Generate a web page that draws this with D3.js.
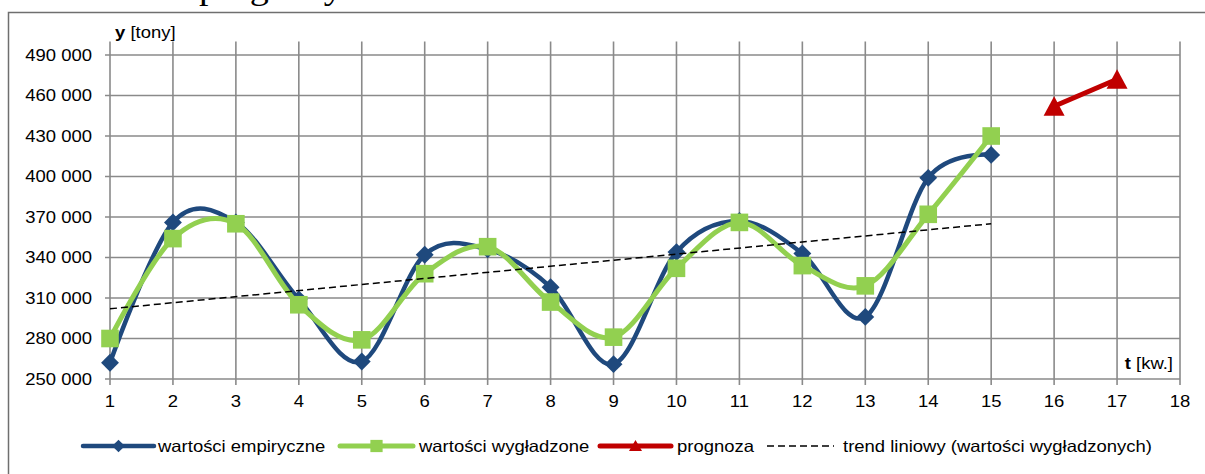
<!DOCTYPE html>
<html>
<head>
<meta charset="utf-8">
<script src="https://cdn.jsdelivr.net/npm/d3@7"></script>
<style>
  html, body { margin: 0; padding: 0; background: #fff; }
  svg { display: block; }
</style>
</head>
<body>
<svg id="chart" width="1205" height="474"></svg>
<script>
// ---- data ----
const quarters = [1, 2, 3, 4, 5, 6, 7, 8, 9, 10, 11, 12, 13, 14, 15];
const empirical = [262000, 366000, 366000, 309000, 263000, 342000, 346000, 318000, 261000, 344000, 367000, 343000, 296000, 399000, 416000];
const smoothed  = [280000, 354000, 365000, 305000, 279000, 328000, 348000, 307000, 281000, 332000, 366000, 334000, 319000, 372000, 430000];
const forecastQuarters = [16, 17];
const forecast = [452000, 472000];
const trendQuarters = [1, 15];
const trendValues = [302000, 365000];
const xTicks = [1, 2, 3, 4, 5, 6, 7, 8, 9, 10, 11, 12, 13, 14, 15, 16, 17, 18];
const yTicks = [250000, 280000, 310000, 340000, 370000, 400000, 430000, 460000, 490000];
const legendLabels = ["wartości empiryczne", "wartości wygładzone", "prognoza", "trend liniowy (wartości wygładzonych)"];

// ---- setup ----
const svg = d3.select("#chart");
const FONT = "'Liberation Sans', Arial, sans-serif";
const SX = 1.12; // horizontal stretch of the text glyphs
const x = d3.scaleLinear().domain([1, 18]).range([110, 1180]);
const y = d3.scaleLinear().domain([250000, 500000]).range([379, 41.5]);
const BLUE = "#1F497D", GREEN = "#92D050", RED = "#C00000", GRID = "#8a8a8a";

function stretchedText(sel, px, py, txt, opts = {}) {
  const t = sel.append("text")
    .attr("transform", `translate(${px},${py}) scale(${SX},1)`)
    .attr("font-family", opts.family || FONT)
    .attr("font-size", opts.size || 16.5)
    .attr("fill", "#000")
    .attr("text-anchor", opts.anchor || "start")
    .attr("dominant-baseline", opts.baseline || "auto");
  return t.text(txt);
}

// Partial title text above the chart (cut by the top edge, as in the reference)
stretchedText(svg, 199, -1, "prognozy", { family: "'Liberation Serif', 'Times New Roman', serif", size: 34 });

// Chart border
svg.append("rect").attr("x", 8.5).attr("y", 12.5).attr("width", 1220).attr("height", 480)
  .attr("fill", "none").attr("stroke", "#6f6f6f").attr("stroke-width", 1.5);

// ---- grid ----
const grid = svg.append("g");
grid.selectAll("line.h").data(yTicks).join("line")
  .attr("class", "h")
  .attr("x1", x(1) - 5).attr("x2", x(18))
  .attr("y1", d => y(d)).attr("y2", d => y(d))
  .attr("stroke", GRID).attr("stroke-width", 1.6);
grid.selectAll("line.v").data(xTicks).join("line")
  .attr("class", "v")
  .attr("x1", d => x(d)).attr("x2", d => x(d))
  .attr("y1", y(500000)).attr("y2", y(250000) + 6)
  .attr("stroke", GRID).attr("stroke-width", 1.6);

// ---- axis labels ----
const fmt = v => d3.format(",")(v).replace(/,/g, " ");
const yl = svg.append("g");
yTicks.forEach(v => stretchedText(yl, 92, y(v), fmt(v), { anchor: "end", baseline: "central" }));
const xl = svg.append("g");
xTicks.forEach(v => stretchedText(xl, x(v), 401, String(v), { anchor: "middle", baseline: "central" }));

// axis titles
const yt = stretchedText(svg, 115, 38, "", {});
yt.append("tspan").attr("font-weight", "bold").text("y");
yt.append("tspan").text(" [tony]");
const xt = stretchedText(svg, 1173, 369, "", { anchor: "end" });
xt.append("tspan").attr("font-weight", "bold").text("t");
xt.append("tspan").text(" [kw.]");

// ---- series ----
const smoothLine = d3.line().curve(d3.curveCatmullRom.alpha(0)).x(d => x(d[0])).y(d => y(d[1]));
const straightLine = d3.line().x(d => x(d[0])).y(d => y(d[1]));

const empData = quarters.map((q, i) => [q, empirical[i]]);
const smData = quarters.map((q, i) => [q, smoothed[i]]);
const fcData = forecastQuarters.map((q, i) => [q, forecast[i]]);
const trData = trendQuarters.map((q, i) => [q, trendValues[i]]);

// empirical
svg.append("path").datum(empData).attr("d", smoothLine)
  .attr("fill", "none").attr("stroke", BLUE).attr("stroke-width", 4.5).attr("stroke-linejoin", "round");
svg.append("g").selectAll("path").data(empData).join("path")
  .attr("transform", d => `translate(${x(d[0])},${y(d[1])}) rotate(45)`)
  .attr("d", d3.symbol().type(d3.symbolSquare).size(160)).attr("fill", BLUE);

// smoothed
svg.append("path").datum(smData).attr("d", smoothLine)
  .attr("fill", "none").attr("stroke", GREEN).attr("stroke-width", 5).attr("stroke-linejoin", "round");
svg.append("g").selectAll("path").data(smData).join("path")
  .attr("transform", d => `translate(${x(d[0])},${y(d[1])})`)
  .attr("d", d3.symbol().type(d3.symbolSquare).size(310)).attr("fill", GREEN);

// forecast
svg.append("path").datum(fcData).attr("d", straightLine)
  .attr("fill", "none").attr("stroke", RED).attr("stroke-width", 5);
svg.append("g").selectAll("path").data(fcData).join("path")
  .attr("transform", d => `translate(${x(d[0])},${y(d[1])})`)
  .attr("d", "M0,-10 L10.5,9.5 L-10.5,9.5 Z").attr("fill", RED);

// trend
svg.append("path").datum(trData).attr("d", straightLine)
  .attr("fill", "none").attr("stroke", "#000").attr("stroke-width", 1.5).attr("stroke-dasharray", "7,4");

// ---- legend ----
const lg = svg.append("g");
const LY = 446;
const items = [
  { x1: 83, x2: 154, color: BLUE, w: 4.5, marker: "diamond", tx: 158 },
  { x1: 340, x2: 413, color: GREEN, w: 5, marker: "square", tx: 419 },
  { x1: 600, x2: 671, color: RED, w: 5, marker: "triangle", tx: 677 },
  { x1: 767, x2: 834, color: "#000", w: 1.5, marker: null, dash: "7,4", tx: 843 }
];
items.forEach((it, i) => {
  lg.append("line").attr("x1", it.x1).attr("x2", it.x2).attr("y1", LY).attr("y2", LY)
    .attr("stroke", it.color).attr("stroke-width", it.w).attr("stroke-linecap", it.dash ? "butt" : "round")
    .attr("stroke-dasharray", it.dash || null);
  const cx = (it.x1 + it.x2) / 2;
  if (it.marker === "diamond") {
    lg.append("path").attr("transform", `translate(${cx},${LY}) rotate(45)`)
      .attr("d", d3.symbol().type(d3.symbolSquare).size(80)).attr("fill", it.color);
  } else if (it.marker === "square") {
    lg.append("path").attr("transform", `translate(${cx},${LY})`)
      .attr("d", d3.symbol().type(d3.symbolSquare).size(150)).attr("fill", it.color);
  } else if (it.marker === "triangle") {
    lg.append("path").attr("transform", `translate(${cx},${LY})`)
      .attr("d", "M0,-6 L6.5,5 L-6.5,5 Z").attr("fill", it.color);
  }
  stretchedText(lg, it.tx, LY, legendLabels[i], { baseline: "central" });
});
</script>
</body>
</html>
